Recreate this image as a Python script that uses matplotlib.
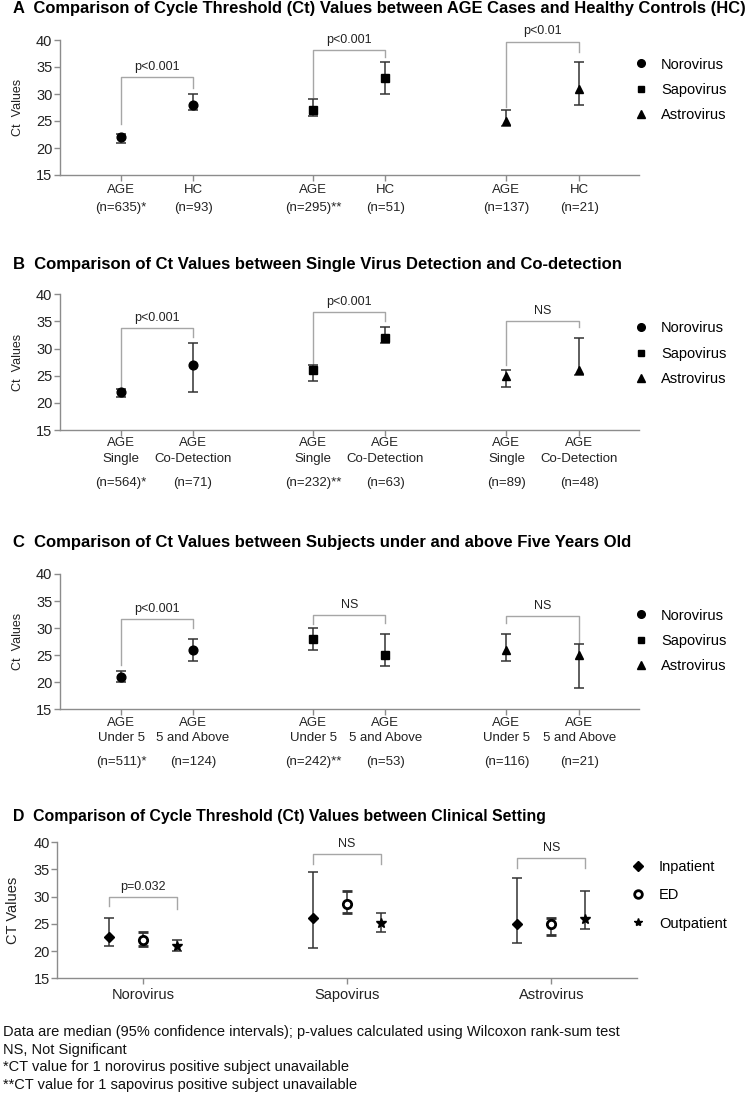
import matplotlib
matplotlib.use("Agg")
import matplotlib.pyplot as plt
from matplotlib.lines import Line2D

plt.rcParams["font.family"] = ["Liberation Sans", "DejaVu Sans"]

W, H = 755, 1096

viruses = ["Norovirus", "Sapovirus", "Astrovirus"]
virus_markers = ["o", "s", "^"]
settings = ["Inpatient", "ED", "Outpatient"]

# Panel A: AGE vs HC (median, lower CI, upper CI)
a_line1 = ["AGE", "HC", "AGE", "HC", "AGE", "HC"]
a_n = ["(n=635)*", "(n=93)", "(n=295)**", "(n=51)", "(n=137)", "(n=21)"]
a_med = [22, 28, 27, 33, 25, 31]
a_lo = [21, 27, 26, 30, 24, 28]
a_hi = [22.6, 30, 29, 36, 27, 36]
a_p = ["p<0.001", "p<0.001", "p<0.01"]
a_brk = [(24.4, 33.1, 31.2), (29.5, 38.1, 36.9), (27.6, 39.7, 37.8)]

# Panel B: single vs co-detection
b_line1 = ["AGE", "AGE"] * 3
b_line2 = ["Single", "Co-Detection"] * 3
b_n = ["(n=564)*", "(n=71)", "(n=232)**", "(n=63)", "(n=89)", "(n=48)"]
b_med = [22, 27, 26, 32, 25, 26]
b_lo = [21, 22, 24, 31, 23, 25.2]
b_hi = [22.6, 31, 27, 34, 26, 32]
b_p = ["p<0.001", "p<0.001", "NS"]
b_brk = [(23.0, 33.8, 32.1), (27.2, 36.7, 35.1), (27.0, 35.1, 34.0)]

# Panel C: under 5 vs 5 and above
c_line1 = ["AGE", "AGE"] * 3
c_line2 = ["Under 5", "5 and Above"] * 3
c_n = ["(n=511)*", "(n=124)", "(n=242)**", "(n=53)", "(n=116)", "(n=21)"]
c_med = [21, 26, 28, 25, 26, 25]
c_lo = [20, 24, 26, 23, 24, 19]
c_hi = [22, 28, 30, 29, 29, 27]
c_p = ["p<0.001", "NS", "NS"]
c_brk = [(23.2, 31.7, 30.0), (30.8, 32.5, 30.9), (30.9, 32.2, 27.2)]

# Panel D: clinical setting, rows = virus, cols = setting
d_med = [[22.5, 22, 21], [26, 28.6, 25.2], [25, 25, 25.9]]
d_lo = [[21, 21, 20], [20.5, 27, 23.5], [21.5, 23, 24]]
d_hi = [[26, 23.5, 22], [34.5, 31, 27], [33.5, 26, 31]]
d_p = ["p=0.032", "NS", "NS"]
d_brk = [(28.2, 29.9, 27.7), (36.0, 37.9, 36.0), (35.2, 37.2, 35.2)]

footnotes = [
    "Data are median (95% confidence intervals); p-values calculated using Wilcoxon rank-sum test",
    "NS, Not Significant",
    "*CT value for 1 norovirus positive subject unavailable",
    "**CT value for 1 sapovirus positive subject unavailable",
]

titles = [
    "A  Comparison of Cycle Threshold (Ct) Values between AGE Cases and Healthy Controls (HC)",
    "B  Comparison of Ct Values between Single Virus Detection and Co-detection",
    "C  Comparison of Ct Values between Subjects under and above Five Years Old",
    "D  Comparison of Cycle Threshold (Ct) Values between Clinical Setting",
]
title_y = [9, 265, 543, 817]
title_size = [11.85, 12, 12, 11.4]

pair_x = [0, 1, 2.67, 3.67, 5.35, 6.36]
BRK = "#a6a6a6"
AX = "#8c8c8c"

fig = plt.figure(figsize=(W / 100, H / 100), dpi=100)


def px_axes(left, top, right, bottom):
    return fig.add_axes([left / W, 1 - bottom / H, (right - left) / W, (bottom - top) / H])


def style(ax, ylabel, ylab_x, ylab_size=9):
    ax.set_ylim(15, 40)
    ax.set_yticks(range(15, 41, 5))
    for s in ["top", "right"]:
        ax.spines[s].set_visible(False)
    for s in ["left", "bottom"]:
        ax.spines[s].set_color(AX)
        ax.spines[s].set_linewidth(1)
    ax.tick_params(axis="both", colors=AX, labelcolor="#222222", length=4, width=1)
    ax.tick_params(axis="y", labelsize=10.5, pad=1.5)
    ax.set_ylabel(ylabel, fontsize=ylab_size, color="#222222")
    ax.yaxis.set_label_coords(ylab_x, 0.5)


def label_lines(ax, xs, lines, offsets):
    # offsets in pixels below the x axis
    for labels, off in zip(lines, offsets):
        for x, lab in zip(xs, labels):
            ax.annotate(lab, xy=(x, 0), xycoords=("data", "axes fraction"),
                        xytext=(0, -off * 0.72), textcoords="offset points",
                        ha="center", va="center", fontsize=9.5, color="#222222")


def brackets(ax, xs, brk, ptxt, gap):
    for i, (yl, yt, yr) in enumerate(brk):
        x1, x2 = xs[2 * i], xs[2 * i + 1]
        ax.plot([x1, x1, x2, x2], [yl, yt, yt, yr], color=BRK, lw=1, clip_on=False)
        ax.text((x1 + x2) / 2, yt + gap, ptxt[i], ha="center", va="center",
                fontsize=9, color="#222222", clip_on=False)


def legend(ax, handles, labels, top, spacing):
    ax.legend(handles, labels, loc="upper left", bbox_to_anchor=(0.99, top),
              frameon=False, fontsize=10.5, handlelength=1, handletextpad=0.9,
              labelspacing=spacing, borderpad=0, borderaxespad=0)


def pair_panel(top, bottom, med, lo, hi, lines, offsets, brk, ptxt, leg_top, gap):
    ax = px_axes(60, top, 639, bottom)
    for i in range(6):
        m = virus_markers[i // 2]
        ms = 6.3 if m == "o" else (5.8 if m == "s" else 6.3)
        ax.errorbar(pair_x[i], med[i], yerr=[[med[i] - lo[i]], [hi[i] - med[i]]],
                    fmt=m, color="black", ms=ms, ecolor="#333333",
                    elinewidth=1.1, capsize=3.5, capthick=1.1, zorder=3)
    ax.set_xlim(-0.847, 7.19)
    ax.set_xticks(pair_x)
    ax.set_xticklabels([])
    ax.tick_params(axis="x", length=5)
    style(ax, "Ct  Values", -0.062)
    label_lines(ax, pair_x, lines, offsets)
    brackets(ax, pair_x, brk, ptxt, gap)
    handles = [Line2D([], [], ls="none", marker=m, color="black", ms=5.5 if m != "s" else 5)
               for m in virus_markers]
    legend(ax, handles, viruses, leg_top, 0.78)
    return ax


pair_panel(40, 175, a_med, a_lo, a_hi, [a_line1, a_n], [15, 33], a_brk, a_p, 0.87, 1.9)
pair_panel(294.3, 430, b_med, b_lo, b_hi, [b_line1, b_line2, b_n], [13, 29, 53],
           b_brk, b_p, 0.80, 1.9)
pair_panel(574, 709.3, c_med, c_lo, c_hi, [c_line1, c_line2, c_n], [14, 29, 53],
           c_brk, c_p, 0.745, 1.8)

# Panel D
axd = px_axes(57.3, 842.3, 637, 978.3)
d_markers = ["D", "o", "*"]
offs = [-0.167, 0, 0.167]
for vi in range(3):
    for si in range(3):
        x = vi + offs[si]
        m = d_markers[si]
        kw = dict(fmt=m, color="black", ecolor="#333333", elinewidth=1.1,
                  capsize=3.5, capthick=1.1, zorder=3)
        if m == "o":
            kw.update(ms=6, mfc="white", mew=2)
        elif m == "D":
            kw.update(ms=5.5)
        else:
            kw.update(ms=7)
        axd.errorbar(x, d_med[vi][si],
                     yerr=[[d_med[vi][si] - d_lo[vi][si]], [d_hi[vi][si] - d_med[vi][si]]], **kw)
axd.set_xlim(-0.42, 2.42)
axd.set_xticks(range(3))
axd.set_xticklabels(viruses, fontsize=10.5)
axd.tick_params(axis="x", length=5, pad=3)
style(axd, "CT Values", -0.064, ylab_size=10.5)
d_x = []
for vi in range(3):
    d_x += [vi - 0.167, vi + 0.167]
brackets(axd, d_x, d_brk, d_p, 1.8)
d_handles = [Line2D([], [], ls="none", marker="D", color="black", ms=5),
             Line2D([], [], ls="none", marker="o", color="black", mfc="white", mew=2, ms=5.5),
             Line2D([], [], ls="none", marker="*", color="black", ms=6)]
axd.legend(d_handles, settings, loc="upper left", bbox_to_anchor=(0.99, 0.87),
           frameon=False, fontsize=10.5, handlelength=1, handletextpad=0.9,
           labelspacing=0.98, borderpad=0, borderaxespad=0)

for t, y, fs in zip(titles, title_y, title_size):
    fig.text(13 / W, 1 - y / H, t, fontsize=fs, weight="bold", va="center", ha="left")

for i, line in enumerate(footnotes):
    fig.text(3 / W, 1 - (1032 + 17.7 * i) / H, line, fontsize=10.5, va="center", ha="left",
             color="#111111")

fig.savefig("out.png", dpi=100)
